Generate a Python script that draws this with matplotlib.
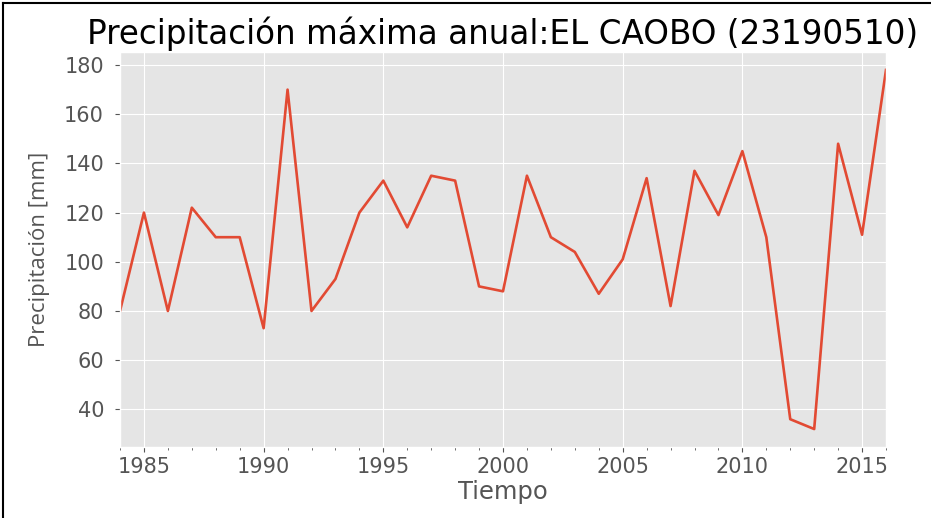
import matplotlib.pyplot as plt
from matplotlib.lines import Line2D
from matplotlib.ticker import MultipleLocator

plt.style.use('ggplot')

anios = list(range(1984, 2017))
precip = [80, 120, 80, 122, 110, 110, 73, 170, 80, 93,
          120, 133, 114, 135, 133, 90, 88, 135, 110, 104,
          87, 101, 134, 82, 137, 119, 145, 110, 36, 32,
          148, 111, 178]

fig = plt.figure(figsize=(9.31, 5.18), dpi=100)
ax = fig.add_axes([120 / 931, 1 - 447 / 518, 766 / 931, 395 / 518])

ax.plot(anios, precip, color='#E24A33', linewidth=1.9)
ax.set_xlim(1984, 2016)
ax.xaxis.set_major_locator(MultipleLocator(5))
ax.xaxis.set_minor_locator(MultipleLocator(1))
ax.yaxis.set_major_locator(MultipleLocator(20))
ax.tick_params(axis='both', labelsize=15, colors='#555555')
ax.tick_params(axis='y', pad=8)
ax.tick_params(axis='x', which='minor', length=2, colors='#555555')
ax.grid(which='minor', visible=False)

ax.set_title('Precipitación máxima anual:EL CAOBO (23190510)', fontsize=23.5, pad=6)
ax.set_xlabel('Tiempo', fontsize=17.5, color='#555555', labelpad=2)
ax.set_ylabel('Precipitación [mm]', fontsize=16, color='#555555', labelpad=10,
              family=['Open Sans', 'DejaVu Sans'])

# marco negro del recorte original (solo izquierda y arriba)
fig.add_artist(Line2D([3 / 931, 3 / 931], [0, 1 - 3 / 518], transform=fig.transFigure, color='black', linewidth=1.5))
fig.add_artist(Line2D([3 / 931, 1], [1 - 3 / 518, 1 - 3 / 518], transform=fig.transFigure, color='black', linewidth=1.5))

fig.savefig('out.png', dpi=100, facecolor='white')
